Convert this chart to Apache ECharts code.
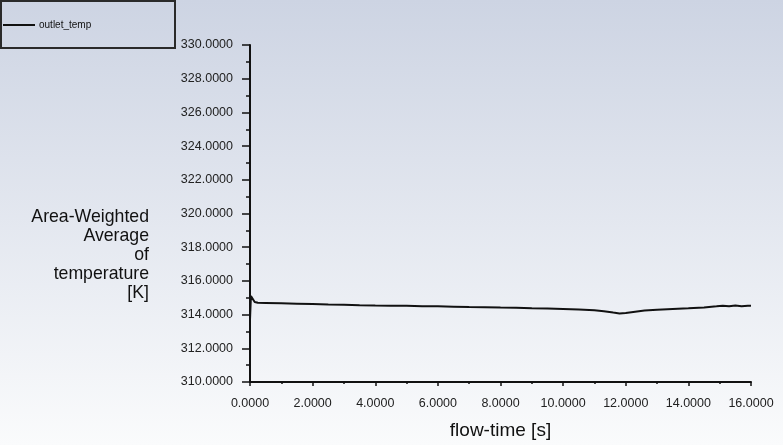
<!DOCTYPE html>
<html>
<head>
<meta charset="utf-8">
<script src="https://cdn.jsdelivr.net/npm/echarts@6/dist/echarts.min.js"></script>
<style>
html,body{margin:0;padding:0;}
#c{width:783px;height:445px;}
</style>
</head>
<body>
<div id="c"></div>
<script>
var seriesName = 'outlet_temp';
var flowTime = [0.00, 0.03, 0.08, 0.15, 0.25, 0.5, 1.0, 1.5, 2.0, 2.5, 3.0, 3.5, 4.0, 4.5, 5.0, 5.5, 6.0, 6.5, 7.0, 7.5, 8.0, 8.5, 9.0, 9.5, 10.0, 10.5, 11.0, 11.3, 11.6, 11.8, 12.0, 12.3, 12.6, 13.0, 13.5, 14.0, 14.5, 14.9, 15.1, 15.3, 15.5, 15.7, 15.9, 16.0];
var temperature = [313.7, 315.1, 315.0, 314.75, 314.70, 314.69, 314.67, 314.65, 314.63, 314.60, 314.59, 314.56, 314.54, 314.53, 314.52, 314.50, 314.49, 314.47, 314.45, 314.44, 314.42, 314.41, 314.37, 314.36, 314.33, 314.30, 314.26, 314.20, 314.12, 314.07, 314.10, 314.17, 314.24, 314.29, 314.33, 314.37, 314.42, 314.49, 314.53, 314.49, 314.54, 314.50, 314.53, 314.52];
var yTicks = {min: 310, max: 330, interval: 2};
var xTicks = {min: 0, max: 16, interval: 2};
var yAxisTitle = ['Area-Weighted', 'Average', 'of', 'temperature', '[K]'];
var xAxisTitle = 'flow-time [s]';

var data = flowTime.map(function (t, i) { return [t, temperature[i]]; });
var chart = echarts.init(document.getElementById('c'));
chart.setOption({
  animation: false,
  backgroundColor: {
    type: 'linear', x: 0, y: 0, x2: 0, y2: 1,
    colorStops: [{offset: 0, color: '#cdd4e3'}, {offset: 1, color: '#fafbfc'}]
  },
  textStyle: {fontFamily: 'Liberation Sans, Arial, sans-serif'},
  grid: {left: 250, top: 45, right: 32, bottom: 63, outerBoundsMode: 'none', containLabel: false},
  legend: {
    left: 3, top: 20, padding: 0,
    itemWidth: 32, itemHeight: 2, icon: 'rect',
    itemGap: 4,
    textStyle: {fontSize: 10, color: '#111', fontFamily: 'Liberation Sans, Arial, sans-serif', padding: [0, 0, 0, -1]},
    data: [seriesName]
  },
  graphic: [
    {type: 'rect', shape: {x: 1, y: 1, width: 174, height: 47}, style: {fill: 'none', stroke: '#2a2a2a', lineWidth: 2}, z: 100},
    {type: 'text', right: 783 - 149, top: 208, style: {
      text: yAxisTitle.join('\n'), textAlign: 'right', fill: '#111',
      font: '17.7px "Liberation Sans", Arial, sans-serif', lineHeight: 19
    }}
  ],
  xAxis: {
    type: 'value', min: xTicks.min, max: xTicks.max, interval: xTicks.interval,
    name: xAxisTitle, nameLocation: 'middle', nameGap: 39,
    nameTextStyle: {fontSize: 19, color: '#111'},
    axisLine: {lineStyle: {color: '#111', width: 2}},
    axisTick: {length: 4, lineStyle: {color: '#111', width: 1.5}},
    minorTick: {show: true, splitNumber: 2, length: 2, lineStyle: {color: '#111', width: 1.5}},
    splitLine: {show: false},
    axisLabel: {margin: 15, fontSize: 12.5, color: '#222', formatter: function (v) { return v.toFixed(4); }}
  },
  yAxis: {
    type: 'value', min: yTicks.min, max: yTicks.max, interval: yTicks.interval,
    axisLine: {show: true, lineStyle: {color: '#111', width: 2}},
    axisTick: {show: true, length: 8, lineStyle: {color: '#111', width: 1.5}},
    minorTick: {show: true, splitNumber: 2, length: 4, lineStyle: {color: '#111', width: 1.5}},
    splitLine: {show: false},
    axisLabel: {margin: 17, fontSize: 12.5, color: '#222', formatter: function (v) { return v.toFixed(4); }}
  },
  series: [{
    name: seriesName, type: 'line', data: data,
    showSymbol: false, symbol: 'none',
    lineStyle: {color: '#111', width: 2},
    itemStyle: {color: '#111'}
  }]
});
</script>
</body>
</html>
